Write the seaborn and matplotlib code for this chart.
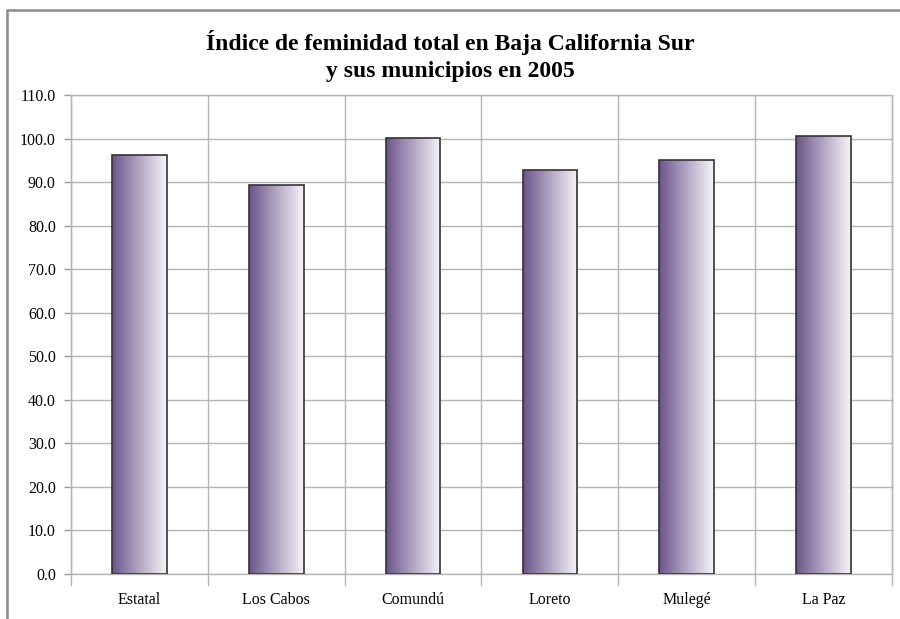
import numpy as np
import pandas as pd
import matplotlib
matplotlib.use("Agg")
import matplotlib.pyplot as plt
import seaborn as sns
from matplotlib.colors import LinearSegmentedColormap
from matplotlib.patches import Rectangle

# Datos
municipios = ['Estatal', 'Los Cabos', 'Comundú', 'Loreto', 'Mulegé', 'La Paz']
indice = [96.2, 89.3, 100.1, 92.8, 95.1, 100.6]
y_ticks = np.arange(0, 111, 10)

df = pd.DataFrame({'municipio': municipios, 'indice': indice})

sns.set_style("white")
plt.rcParams['font.family'] = ['Liberation Serif', 'DejaVu Serif']

fig = plt.figure(figsize=(9, 6.19), dpi=100)
ax = fig.add_axes([0.079, 0.073, 0.912, 0.773])

sns.barplot(data=df, x='municipio', y='indice', color='white',
            width=0.4, edgecolor='#333333', linewidth=1.2, ax=ax, zorder=3)

# gradient fill for each bar
cmap = LinearSegmentedColormap.from_list('morado', ['#6b5488', '#b3a6c4', '#f6f4f8'])
grad = np.linspace(0, 1, 256).reshape(1, -1)
for bar in ax.patches:
    x0, y0 = bar.get_x(), bar.get_y()
    w, h = bar.get_width(), bar.get_height()
    im = ax.imshow(grad, cmap=cmap, aspect='auto', extent=[x0, x0 + w, y0, y0 + h],
                   zorder=2.5, interpolation='bicubic')
    im.set_clip_path(bar)
    bar.set_facecolor('none')

ax.set_xlim(-0.5, len(municipios) - 0.5)
ax.set_ylim(0, 110)
ax.set_yticks(y_ticks)
ax.set_yticklabels([f'{v:.1f}' for v in y_ticks], fontsize=11.5)
ax.set_xlabel('')
ax.set_ylabel('')
ax.tick_params(axis='x', labelsize=11.5, length=0, pad=13, labelcolor='black')
ax.tick_params(axis='y', length=5, direction='out', color='#999999', width=1, pad=6,
               left=True, labelcolor='black')

# grid: horizontal every 10, vertical at category boundaries
for v in y_ticks:
    ax.axhline(v, color='#b5b5b5', lw=1, zorder=1)
for b in np.arange(-0.5, len(municipios), 1):
    ax.plot([b, b], [-2.5, 110], color='#b5b5b5', lw=1, zorder=1, clip_on=False)

for s in ax.spines.values():
    s.set_color('#b5b5b5')
    s.set_linewidth(1)

fig.text(0.5, 0.91, 'Índice de feminidad total en Baja California Sur\ny sus municipios en 2005',
         ha='center', va='center', fontsize=17, fontweight='bold', linespacing=1.4,
         color='black')

# outer chart frame (left and top edges visible)
fig.patches.append(Rectangle((0.008, -0.05), 1.1, 0.034 + 0.05 + 0.95, transform=fig.transFigure,
                             fill=False, edgecolor='#8a8a8a', lw=1.8))

fig.savefig('out.png', dpi=100)
